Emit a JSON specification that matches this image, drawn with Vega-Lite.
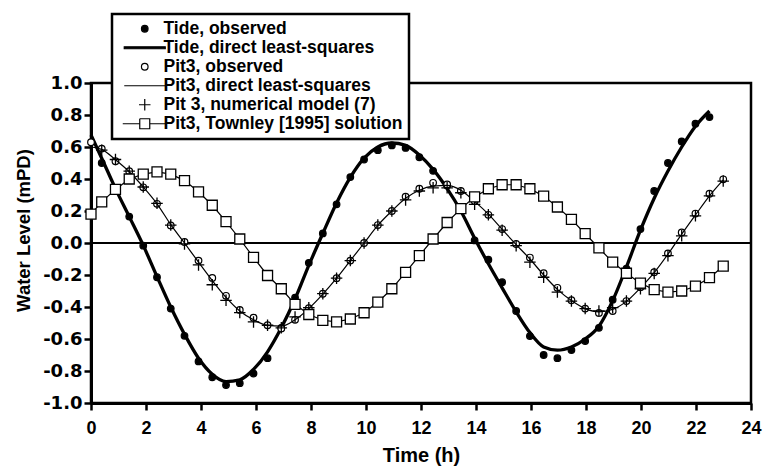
{
  "$schema": "https://vega.github.io/schema/vega-lite/v6.json",
  "autosize": {"type": "none"},
  "padding": {"left": 91, "top": 83, "right": 13, "bottom": 67},
  "width": 660,
  "height": 320,
  "background": "white",
  "data": {"values": [
    {"t": 0, "a": null, "b": 0.675, "c": 0.63, "d": 0.6, "e": null, "f": 0.18},
    {"t": 0.39, "a": 0.5, "b": 0.53, "c": 0.59, "d": 0.585, "e": 0.58, "f": 0.257},
    {"t": 0.89, "a": 0.33, "b": 0.34, "c": 0.511, "d": 0.52, "e": 0.522, "f": 0.335},
    {"t": 1.39, "a": 0.165, "b": 0.165, "c": 0.449, "d": 0.445, "e": 0.449, "f": 0.4},
    {"t": 1.9, "a": -0.017, "b": -0.015, "c": 0.348, "d": 0.35, "e": 0.35, "f": 0.43},
    {"t": 2.4, "a": -0.214, "b": -0.21, "c": 0.245, "d": 0.245, "e": 0.248, "f": 0.445},
    {"t": 2.9, "a": -0.41, "b": -0.4, "c": 0.11, "d": 0.115, "e": 0.112, "f": 0.43},
    {"t": 3.4, "a": -0.58, "b": -0.57, "c": 0.006, "d": 0.0, "e": -0.006, "f": 0.39},
    {"t": 3.91, "a": -0.74, "b": -0.72, "c": -0.11, "d": -0.12, "e": -0.137, "f": 0.32},
    {"t": 4.41, "a": -0.839, "b": -0.82, "c": -0.218, "d": -0.235, "e": -0.261, "f": 0.236},
    {"t": 4.91, "a": -0.888, "b": -0.866, "c": -0.33, "d": -0.34, "e": -0.358, "f": 0.134},
    {"t": 5.41, "a": -0.876, "b": -0.855, "c": -0.418, "d": -0.425, "e": -0.435, "f": 0.025},
    {"t": 5.91, "a": -0.816, "b": -0.79, "c": -0.467, "d": -0.48, "e": -0.493, "f": -0.09},
    {"t": 6.42, "a": -0.72, "b": -0.68, "c": -0.514, "d": -0.515, "e": -0.514, "f": -0.203},
    {"t": 6.92, "a": -0.53, "b": -0.53, "c": -0.534, "d": -0.52, "e": -0.53, "f": -0.286},
    {"t": 7.42, "a": -0.342, "b": -0.35, "c": -0.48, "d": -0.48, "e": -0.462, "f": -0.383},
    {"t": 7.92, "a": -0.124, "b": -0.14, "c": -0.408, "d": -0.41, "e": -0.404, "f": -0.447},
    {"t": 8.43, "a": 0.06, "b": 0.06, "c": -0.317, "d": -0.32, "e": -0.317, "f": -0.483},
    {"t": 8.93, "a": 0.242, "b": 0.25, "c": -0.22, "d": -0.22, "e": -0.22, "f": -0.493},
    {"t": 9.43, "a": 0.412, "b": 0.41, "c": -0.11, "d": -0.11, "e": -0.11, "f": -0.475},
    {"t": 9.93, "a": 0.522, "b": 0.53, "c": 0.0, "d": 0.0, "e": 0.0, "f": -0.436},
    {"t": 10.43, "a": 0.58, "b": 0.6, "c": 0.112, "d": 0.11, "e": 0.112, "f": -0.37},
    {"t": 10.94, "a": 0.61, "b": 0.625, "c": 0.2, "d": 0.2, "e": 0.2, "f": -0.286},
    {"t": 11.44, "a": 0.594, "b": 0.61, "c": 0.29, "d": 0.28, "e": 0.269, "f": -0.183},
    {"t": 11.94, "a": 0.536, "b": 0.55, "c": 0.339, "d": 0.33, "e": 0.325, "f": -0.079},
    {"t": 12.44, "a": 0.451, "b": 0.46, "c": 0.376, "d": 0.355, "e": 0.345, "f": 0.025},
    {"t": 12.95, "a": 0.36, "b": 0.34, "c": 0.366, "d": 0.36, "e": 0.345, "f": 0.128},
    {"t": 13.45, "a": 0.21, "b": 0.2, "c": 0.325, "d": 0.33, "e": 0.314, "f": 0.215},
    {"t": 13.95, "a": 0.016, "b": 0.03, "c": 0.263, "d": 0.26, "e": 0.242, "f": 0.288},
    {"t": 14.45, "a": -0.104, "b": -0.13, "c": 0.176, "d": 0.18, "e": 0.176, "f": 0.339},
    {"t": 14.95, "a": -0.245, "b": -0.28, "c": 0.087, "d": 0.085, "e": 0.08, "f": 0.364},
    {"t": 15.46, "a": -0.425, "b": -0.43, "c": -0.006, "d": -0.01, "e": -0.017, "f": 0.364},
    {"t": 15.96, "a": -0.582, "b": -0.56, "c": -0.091, "d": -0.1, "e": -0.12, "f": 0.339},
    {"t": 16.46, "a": -0.7, "b": -0.65, "c": -0.189, "d": -0.2, "e": -0.214, "f": 0.293},
    {"t": 16.96, "a": -0.72, "b": -0.67, "c": -0.28, "d": -0.29, "e": -0.307, "f": 0.225},
    {"t": 17.47, "a": -0.669, "b": -0.65, "c": -0.358, "d": -0.36, "e": -0.363, "f": 0.148},
    {"t": 17.97, "a": -0.613, "b": -0.6, "c": -0.41, "d": -0.41, "e": -0.41, "f": 0.058},
    {"t": 18.47, "a": -0.53, "b": -0.52, "c": -0.437, "d": -0.43, "e": -0.425, "f": -0.031},
    {"t": 18.97, "a": -0.354, "b": -0.36, "c": -0.425, "d": -0.415, "e": -0.404, "f": -0.12},
    {"t": 19.47, "a": -0.16, "b": -0.15, "c": -0.363, "d": -0.365, "e": -0.363, "f": -0.189},
    {"t": 19.98, "a": 0.087, "b": 0.08, "c": -0.276, "d": -0.28, "e": -0.286, "f": -0.251},
    {"t": 20.48, "a": 0.325, "b": 0.28, "c": -0.183, "d": -0.185, "e": -0.19, "f": -0.292},
    {"t": 20.98, "a": 0.5, "b": 0.45, "c": -0.065, "d": -0.07, "e": -0.079, "f": -0.307},
    {"t": 21.48, "a": 0.635, "b": 0.6, "c": 0.066, "d": 0.055, "e": 0.045, "f": -0.3},
    {"t": 21.98, "a": 0.746, "b": 0.73, "c": 0.184, "d": 0.175, "e": 0.17, "f": -0.27},
    {"t": 22.49, "a": 0.787, "b": 0.825, "c": 0.308, "d": 0.295, "e": 0.294, "f": -0.217},
    {"t": 22.99, "a": null, "b": null, "c": 0.398, "d": 0.395, "e": 0.387, "f": -0.145}
  ]},
  "encoding": {
    "x": {
      "field": "t", "type": "quantitative",
      "scale": {"domain": [0, 24], "nice": false, "zero": false},
      "axis": {
        "title": "Time (h)",
        "values": [0, 2, 4, 6, 8, 10, 12, 14, 16, 18, 20, 22, 24],
        "format": "d"
      }
    }
  },
  "layer": [
    {
      "mark": {"type": "rule", "color": "black", "strokeWidth": 1.3},
      "encoding": {
        "y": {
          "datum": 0, "type": "quantitative",
          "scale": {"domain": [-1, 1], "nice": false, "zero": false},
          "axis": {
            "title": "Water Level (mPD)",
            "values": [-1, -0.8, -0.6, -0.4, -0.2, 0, 0.2, 0.4, 0.6, 0.8, 1],
            "format": ".1f",
            "labelOverlap": false,
            "labelSeparation": 0,
            "tickCount": 11
          }
        },
        "x": {"value": 0}, "x2": {"value": 660}
      }
    },
    {
      "mark": {"type": "point", "filled": true, "fill": "black", "stroke": "black", "strokeWidth": 1.2, "size": 100, "opacity": 1},
      "encoding": {
        "y": {"field": "a", "type": "quantitative"},
        "shape": {
          "datum": "Tide, observed",
          "scale": {
            "domain": ["Tide, observed", "Tide, direct least-squares", "Pit3, observed", "Pit3, direct least-squares", "Pit 3, numerical model (7)", "Pit3, Townley [1995] solution"],
            "range": [
              "M0.66,0A0.66,0.66,0,1,1,-0.66,0A0.66,0.66,0,1,1,0.66,0Z",
              "M-4.1,-0.2H4.1V0.2H-4.1Z",
              "M0.66,0A0.66,0.66,0,1,1,-0.66,0A0.66,0.66,0,1,1,0.66,0A0.66,0.66,0,1,0,-0.66,0A0.66,0.66,0,1,0,0.66,0",
              "M-4.1,0H4.1",
              "M-1.15,0H1.15M0,-1.15V1.15",
              "M-4.4,0H-1M1,0H4.4M-1,-1H1V1H-1V-1V1H1V-1H-1"
            ]
          },
          "legend": {
            "title": null,
            "orient": "none",
            "legendX": 21,
            "legendY": -69,
            "direction": "vertical",
            "padding": 6,
            "symbolOffset": 18,
            "labelOffset": 10,
            "rowPadding": 0,
            "symbolSize": 100,
            "symbolStrokeWidth": 1.2,
            "symbolOpacity": 1,
            "strokeColor": "black",
            "fillColor": "white",
            "labelFont": "Liberation Sans",
            "labelFontWeight": "bold",
            "labelFontSize": 17.5,
            "labelColor": "black",
            "labelLimit": 400,
            "zindex": 2,
            "encode": {
              "symbols": {
                "stroke": {"value": "black"},
                "fill": {"value": "black"},
                "strokeWidth": {"value": 1.2},
                "opacity": {"value": 1}
              }
            }
          }
        }
      }
    },
    {
      "mark": {"type": "line", "color": "black", "strokeWidth": 3.3, "interpolate": "monotone"},
      "encoding": {"y": {"field": "b", "type": "quantitative"}}
    },
    {
      "mark": {"type": "point", "shape": "circle", "filled": true, "fill": "white", "stroke": "black", "strokeWidth": 1.2, "size": 44, "opacity": 1},
      "encoding": {"y": {"field": "c", "type": "quantitative"}}
    },
    {
      "mark": {"type": "line", "color": "black", "strokeWidth": 1.2, "interpolate": "monotone"},
      "encoding": {"y": {"field": "d", "type": "quantitative"}}
    },
    {
      "mark": {"type": "point", "shape": "M-1.15,0H1.15M0,-1.15V1.15", "filled": false, "stroke": "black", "strokeWidth": 1.3, "size": 100, "opacity": 1},
      "encoding": {"y": {"field": "e", "type": "quantitative"}}
    },
    {
      "mark": {"type": "line", "color": "black", "strokeWidth": 1.2},
      "encoding": {"y": {"field": "f", "type": "quantitative"}}
    },
    {
      "mark": {"type": "point", "shape": "square", "filled": true, "fill": "white", "stroke": "black", "strokeWidth": 1.3, "size": 100, "opacity": 1},
      "encoding": {"y": {"field": "f", "type": "quantitative"}}
    }
  ],
  "config": {
    "locale": {"number": {"decimal": ".", "thousands": ",", "grouping": [3], "currency": ["$", ""], "minus": "-"}},
    "view": {"stroke": "black", "strokeWidth": 2.5},
    "axis": {
      "grid": false,
      "domainColor": "black", "domainWidth": 3,
      "tickColor": "black", "tickWidth": 2.5, "tickSize": 7,
      "labelColor": "black", "titleColor": "black",
      "labelOverlap": false, "labelFlush": false
    },
    "axisX": {
      "labelFont": "Liberation Sans", "labelFontSize": 18, "labelFontWeight": "bold",
      "labelPadding": 9,
      "titleFont": "Liberation Sans", "titleFontSize": 20, "titleFontWeight": "bold",
      "titlePadding": 8
    },
    "axisY": {
      "labelFont": "DejaVu Sans", "labelFontSize": 18, "labelFontWeight": "bold",
      "labelPadding": 2,
      "titleFont": "Liberation Sans", "titleFontSize": 18.5, "titleFontWeight": "bold",
      "titleX": -68, "titleY": 147, "titleAngle": -90, "titleAlign": "center", "titleBaseline": "middle"
    },
    "legend": {"strokeWidth": 2.5}
  }
}
